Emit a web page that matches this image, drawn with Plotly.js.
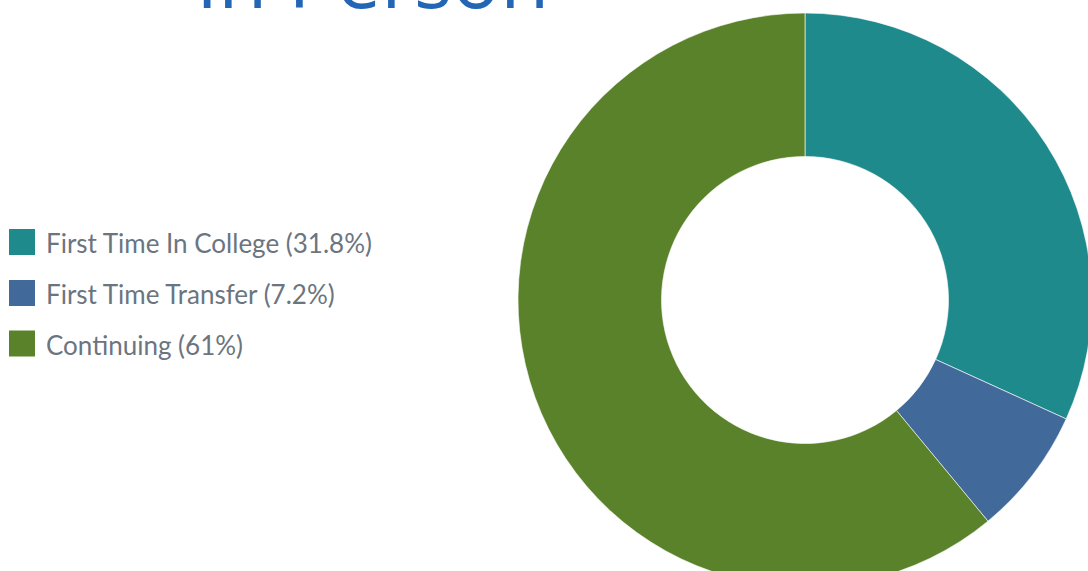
<!DOCTYPE html>
<html>
<head>
<meta charset="utf-8">
<script src="https://cdn.plot.ly/plotly-3.0.1.min.js"></script>
<style>
html,body{margin:0;padding:0;overflow:hidden;background:#fff;}
#chart{width:1100px;height:600px;}
</style>
</head>
<body>
<div id="chart"></div>
<script>
const titleText = "In Person";
const categories = ["First Time In College", "First Time Transfer", "Continuing"];
const values = [31.8, 7.2, 61];
const colors = ["#1f8a8c", "#416a9b", "#5a822a"];

const W = 1100, H = 600;
const fx = px => px / W;
const fy = py => 1 - py / H;

const pie = {
  type: "pie",
  labels: categories,
  values: values,
  hole: 0.5,
  sort: false,
  direction: "clockwise",
  rotation: 0,
  textinfo: "none",
  hoverinfo: "label+percent",
  marker: {colors: colors, line: {color: "#ffffff", width: 0.6}},
  domain: {x: [fx(518), fx(1092)], y: [fy(587), fy(13)]},
  showlegend: false
};

const shapes = [];
const annotations = [];
const legendY = [242, 293, 343.5];
categories.forEach((c, i) => {
  const cy = legendY[i];
  shapes.push({
    type: "rect", xref: "paper", yref: "paper",
    x0: fx(9), x1: fx(35), y0: fy(cy + 13), y1: fy(cy - 13),
    fillcolor: colors[i], line: {width: 0}
  });
  annotations.push({
    xref: "paper", yref: "paper", x: fx(44), y: fy(cy + 1),
    xanchor: "left", yanchor: "middle", showarrow: false,
    text: c + " (" + values[i] + "%)",
    font: {family: "Lato, sans-serif", size: 26, color: "#6b7580"}
  });
});
annotations.push({
  xref: "paper", yref: "paper", x: fx(372), y: fy(33),
  xanchor: "center", yanchor: "bottom", showarrow: false,
  text: titleText,
  font: {family: "Open Sans, sans-serif", size: 80, color: "#2366b5"}
});

const layout = {
  width: W, height: H,
  margin: {l: 0, r: 0, t: 0, b: 0, pad: 0},
  paper_bgcolor: "#ffffff",
  plot_bgcolor: "#ffffff",
  showlegend: false,
  shapes: shapes,
  annotations: annotations
};

Plotly.newPlot("chart", [pie], layout, {displayModeBar: false, staticPlot: true});
</script>
</body>
</html>
